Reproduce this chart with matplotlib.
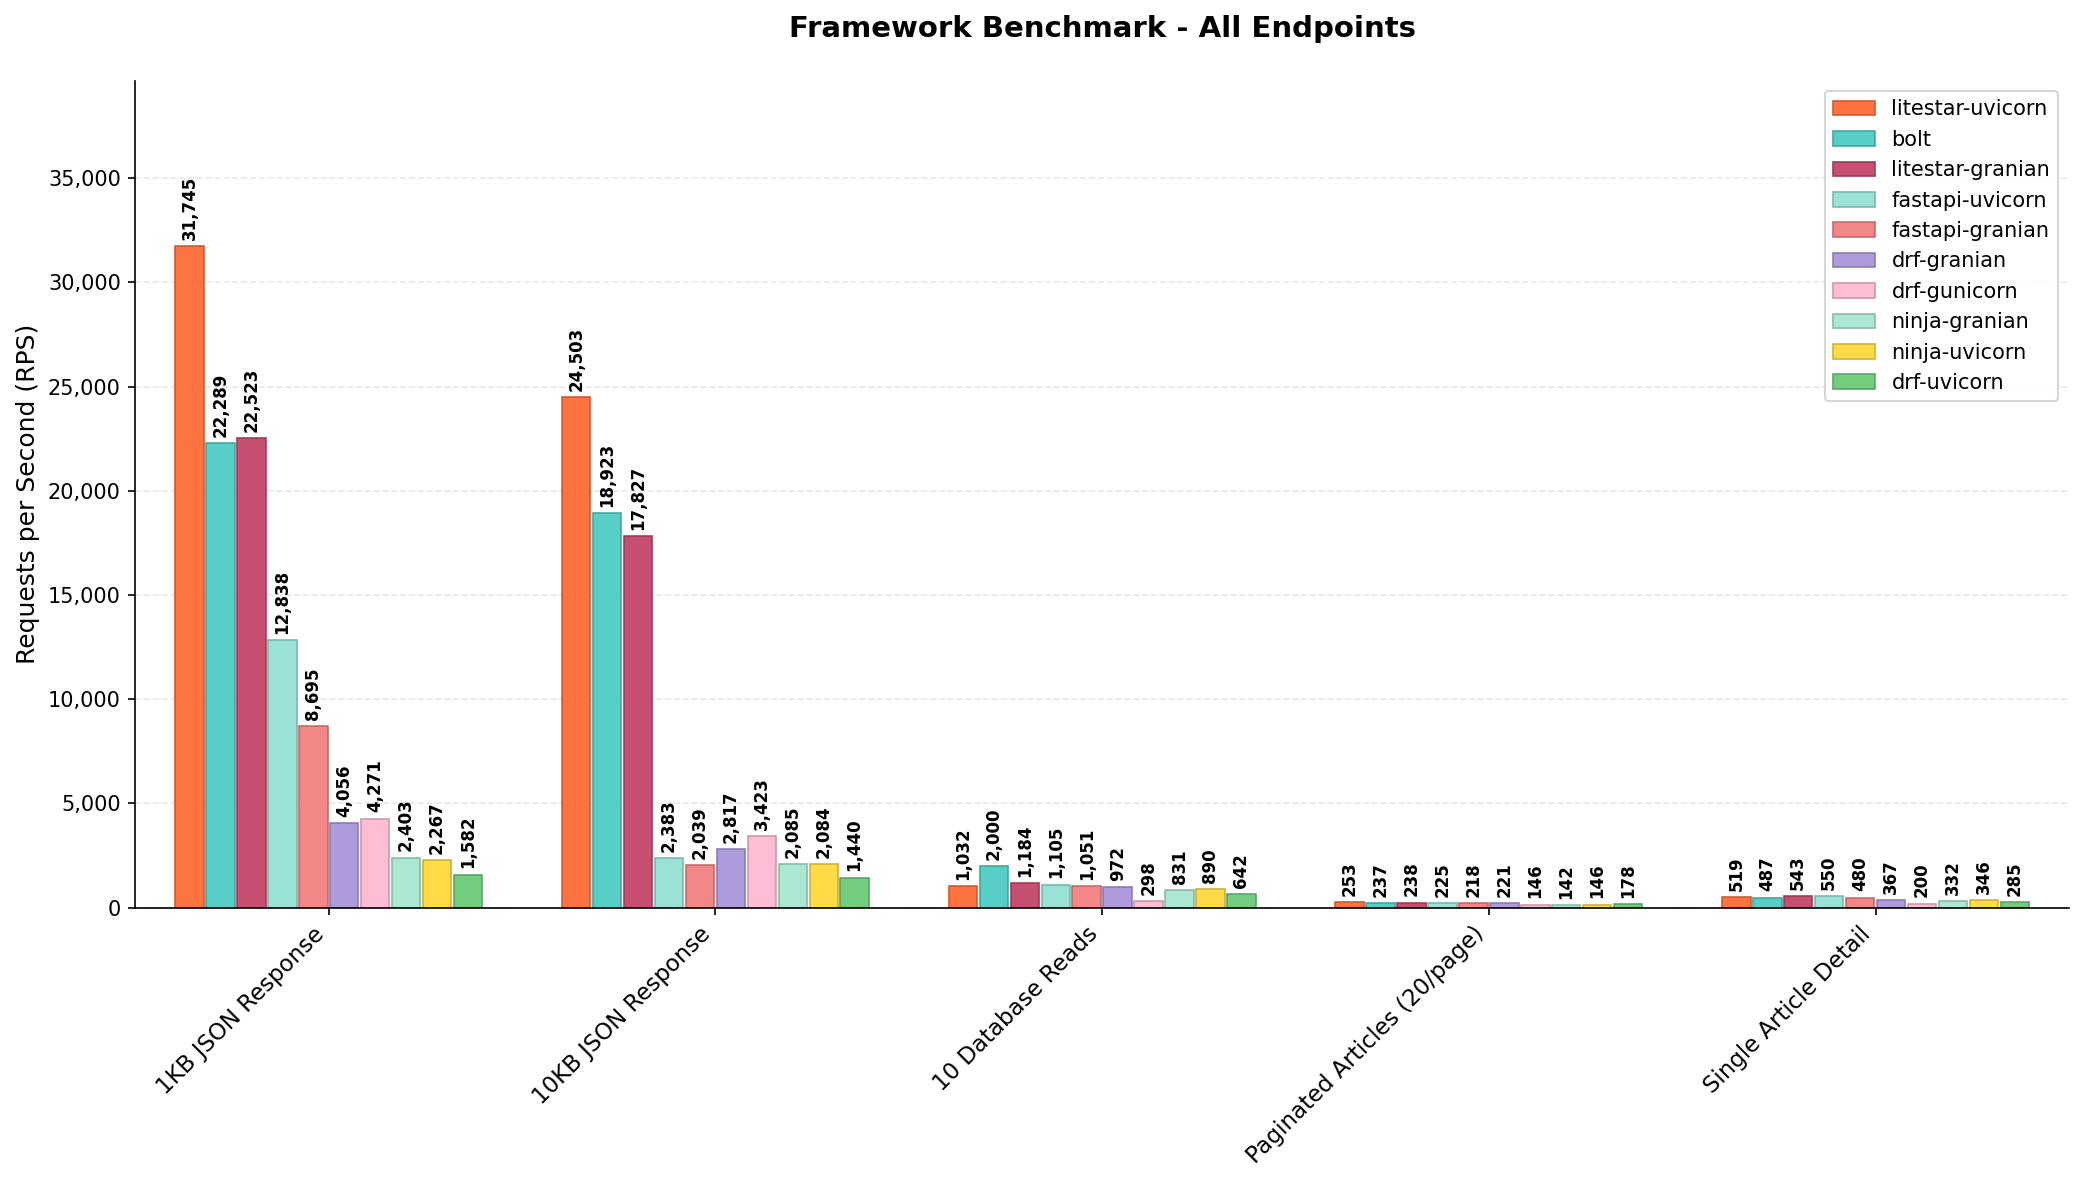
import numpy as np
import matplotlib
matplotlib.use("Agg")
import matplotlib.pyplot as plt
from matplotlib.colors import to_rgb

endpoints = ["1KB JSON Response", "10KB JSON Response", "10 Database Reads",
             "Paginated Articles (20/page)", "Single Article Detail"]

frameworks = ["litestar-uvicorn", "bolt", "litestar-granian", "fastapi-uvicorn",
              "fastapi-granian", "drf-granian", "drf-gunicorn", "ninja-granian",
              "ninja-uvicorn", "drf-uvicorn"]

colors = ["#FF6B35", "#4ECDC4", "#C44569", "#95E1D3", "#F38181",
          "#AA96DA", "#FCBAD3", "#A8E6CF", "#FFD93D", "#6BCB77"]

# RPS per framework, one value per endpoint
litestar_uvicorn = [31745, 24503, 1032, 253, 519]
bolt = [22289, 18923, 2000, 237, 487]
litestar_granian = [22523, 17827, 1184, 238, 543]
fastapi_uvicorn = [12838, 2383, 1105, 225, 550]
fastapi_granian = [8695, 2039, 1051, 218, 480]
drf_granian = [4056, 2817, 972, 221, 367]
drf_gunicorn = [4271, 3423, 298, 146, 200]
ninja_granian = [2403, 2085, 831, 142, 332]
ninja_uvicorn = [2267, 2084, 890, 146, 346]
drf_uvicorn = [1582, 1440, 642, 178, 285]

rps = [litestar_uvicorn, bolt, litestar_granian, fastapi_uvicorn, fastapi_granian,
       drf_granian, drf_gunicorn, ninja_granian, ninja_uvicorn, drf_uvicorn]


def darker(c, f=0.8):
    r, g, b = to_rgb(c)
    return (r * f, g * f, b * f)


fig, ax = plt.subplots(figsize=(13.89, 7.9), dpi=150)

x = np.arange(len(endpoints))
n = len(frameworks)
width = 0.8 / n

for i, name in enumerate(frameworks):
    pos = x + (i - (n - 1) / 2) * width
    bars = ax.bar(pos, rps[i], width * 0.92, label=name, color=colors[i],
                  edgecolor=darker(colors[i]), linewidth=0.8, alpha=0.95)
    for b, v in zip(bars, rps[i]):
        ax.annotate(f"{v:,}", (b.get_x() + b.get_width() / 2, b.get_height()),
                    xytext=(0, 3), textcoords="offset points",
                    ha="center", va="bottom", rotation=90,
                    fontsize=8, fontweight="bold")

ax.set_title("Framework Benchmark - All Endpoints", fontsize=14, fontweight="bold", pad=21)
ax.set_ylabel("Requests per Second (RPS)", fontsize=12)
ax.set_xticks(x)
ax.set_xticklabels(endpoints, rotation=45, ha="right", fontsize=11)
ax.set_xlim(-0.5, len(endpoints) - 0.5)
ax.set_ylim(0, max(max(r) for r in rps) * 1.25)
ax.yaxis.set_major_formatter(matplotlib.ticker.FuncFormatter(lambda v, p: f"{int(v):,}"))
ax.grid(axis="y", linestyle="--", alpha=0.3)
ax.set_axisbelow(True)
ax.spines["top"].set_visible(False)
ax.spines["right"].set_visible(False)
ax.legend(loc="upper right", fontsize=10)

fig.subplots_adjust(left=0.065, right=0.993, top=0.932, bottom=0.234)
fig.savefig("out.png", dpi=150)
